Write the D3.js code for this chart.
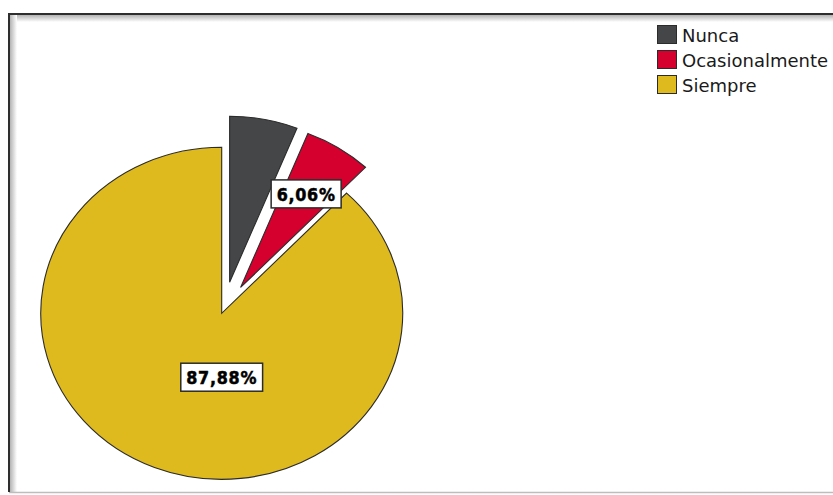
<!DOCTYPE html>
<html>
<head>
<meta charset="utf-8">
<script src="https://cdn.jsdelivr.net/npm/d3@7/dist/d3.min.js"></script>
<style>
  html, body { margin: 0; padding: 0; background: #ffffff; }
  svg { display: block; }
</style>
</head>
<body>
<svg id="chart" width="833" height="495"></svg>
<script>
// Frecuencia de respuesta (porcentaje de casos)
const categories = ["Nunca", "Ocasionalmente", "Siempre"];
const percents = [6.06, 6.06, 87.88];
const sliceColors = ["#444648", "#d6002f", "#dfba1e"];
const explodedSlices = [true, true, false];

const W = 833, H = 495;
const svg = d3.select("#chart");

// ---- panel frame with an inset shadow on the top and left edges ----
const defs = svg.append("defs");
const gTop = defs.append("linearGradient").attr("id", "shTop")
  .attr("x1", 0).attr("y1", 0).attr("x2", 0).attr("y2", 1);
gTop.append("stop").attr("offset", 0).attr("stop-color", "#a8a8a8");
gTop.append("stop").attr("offset", 1).attr("stop-color", "#ffffff");
const gLeft = defs.append("linearGradient").attr("id", "shLeft")
  .attr("x1", 0).attr("y1", 0).attr("x2", 1).attr("y2", 0);
gLeft.append("stop").attr("offset", 0).attr("stop-color", "#a8a8a8");
gLeft.append("stop").attr("offset", 1).attr("stop-color", "#ffffff");

const frame = { x: 9, y: 14, w: 840, h: 478 };
svg.append("rect").attr("x", frame.x).attr("y", frame.y)
  .attr("width", frame.w).attr("height", 8).attr("fill", "url(#shTop)");
svg.append("rect").attr("x", frame.x).attr("y", frame.y)
  .attr("width", 8).attr("height", frame.h).attr("fill", "url(#shLeft)");
svg.append("line").attr("x1", frame.x).attr("x2", frame.x + frame.w)
  .attr("y1", frame.y + frame.h + 0.5).attr("y2", frame.y + frame.h + 0.5)
  .attr("stroke", "#bdbdbd").attr("stroke-width", 1.5);
svg.append("path")
  .attr("d", `M${frame.x},${frame.y + frame.h} L${frame.x},${frame.y} L${frame.x + frame.w},${frame.y}`)
  .attr("fill", "none").attr("stroke", "#2e2e2e").attr("stroke-width", 2);

// ---- elliptical pie ----
const cx = 221.7, cy = 313.3, rx = 181, ry = 166;
const explodeDist = 32;

const pie = d3.pie().sort(null).value(d => d.value);
const data = pie(categories.map((c, i) => ({
  name: c, value: percents[i], color: sliceColors[i], exploded: explodedSlices[i]
})));

// unit arc, stretched into an ellipse by the group transform
const arc = d3.arc().innerRadius(0).outerRadius(1);

function sliceCenter(d) {
  if (!d.data.exploded) return [cx, cy];
  // pull direction leans slightly clockwise of the bisector
  const mid = (d.startAngle + d.endAngle) / 2 + 0.06;
  return [cx + explodeDist * Math.sin(mid), cy - explodeDist * Math.cos(mid)];
}

const slices = svg.append("g").attr("class", "slices");
data.forEach(d => {
  const [sx, sy] = sliceCenter(d);
  slices.append("g")
    .attr("transform", `translate(${sx},${sy}) scale(${rx},${ry})`)
    .append("path")
    .attr("d", arc(d))
    .attr("fill", d.data.color)
    .attr("stroke", "#2b2b2b")
    .attr("stroke-width", 1.1)
    .attr("stroke-linejoin", "miter")
    .attr("vector-effect", "non-scaling-stroke");
});

// ---- value labels ----
const locale = d3.formatLocale({ decimal: ",", thousands: ".", grouping: [3], currency: ["", " €"] });
const fmt = locale.format(".2f");

function labelPos(d) {
  const [sx, sy] = sliceCenter(d);
  const span = d.endAngle - d.startAngle;
  if (span > Math.PI) {
    // wide slices carry their label straight below the centre
    return [sx, sy + 0.385 * ry];
  }
  const mid = (d.startAngle + d.endAngle) / 2;
  const f = 0.67;
  return [sx + f * rx * Math.sin(mid), sy - f * ry * Math.cos(mid)];
}

const labelLayer = svg.append("g").attr("class", "labels");
const placed = [];
// later labels win where two boxes would collide
data.slice().reverse().forEach(d => {
  const [lx, ly] = labelPos(d);
  const g = labelLayer.append("g").attr("transform", `translate(${lx},${ly})`);
  const rect = g.append("rect");
  const txt = g.append("text")
    .attr("text-anchor", "middle")
    .attr("transform", "scale(1,1.15)")
    .attr("dy", "0.36em")
    .attr("font-family", "'DejaVu Sans', Verdana, sans-serif")
    .attr("font-weight", "bold")
    .attr("font-size", 16)
    .attr("letter-spacing", 0.7)
    .attr("fill", "#000")
    .attr("stroke", "#000")
    .attr("stroke-width", 0.45)
    .text(fmt(d.data.value) + "%");
  const bb = txt.node().getBBox();
  const bw = bb.width + 11, bh = 28;
  rect.attr("x", -bw / 2).attr("y", -bh / 2).attr("width", bw).attr("height", bh)
    .attr("fill", "#ffffff").attr("stroke", "#2b2b2b").attr("stroke-width", 1.5);
  const box = { x0: lx - bw / 2, x1: lx + bw / 2, y0: ly - bh / 2, y1: ly + bh / 2 };
  const hit = placed.some(p => !(box.x1 < p.x0 || box.x0 > p.x1 || box.y1 < p.y0 || box.y0 > p.y1));
  if (hit) g.remove(); else placed.push(box);
});

// ---- legend ----
const legend = svg.append("g").attr("transform", "translate(657.5,25.5)");
categories.forEach((c, i) => {
  const row = legend.append("g").attr("transform", `translate(0,${i * 25})`);
  row.append("rect").attr("width", 19).attr("height", 18)
    .attr("fill", sliceColors[i]).attr("stroke", "#2b2b2b").attr("stroke-width", 1);
  row.append("text").attr("x", 24.5).attr("y", 16.8)
    .attr("font-family", "'DejaVu Sans', Verdana, sans-serif")
    .attr("font-size", 18)
    .attr("fill", "#1a1a1a")
    .text(c);
});
</script>
</body>
</html>
